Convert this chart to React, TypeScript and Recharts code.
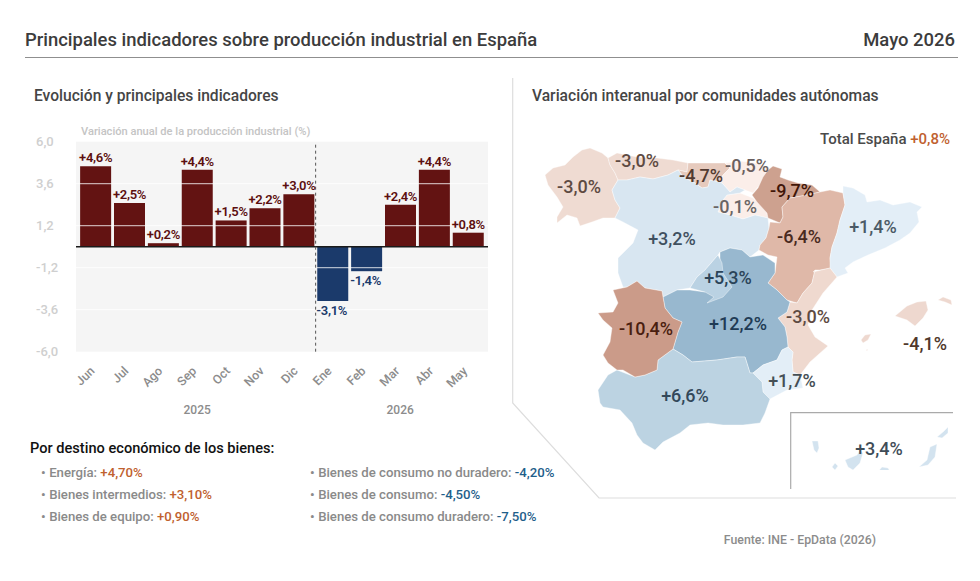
import React from "react";
import { Bar, BarChart, CartesianGrid, Cell, LabelList, ReferenceLine, Scatter, ScatterChart, XAxis, YAxis } from "recharts";

// ---------- bar chart data ----------
const months = ["Jun", "Jul", "Ago", "Sep", "Oct", "Nov", "Dic", "Ene", "Feb", "Mar", "Abr", "May"];
const monthlyValues = [4.6, 2.5, 0.2, 4.4, 1.5, 2.2, 3.0, -3.1, -1.4, 2.4, 4.4, 0.8];
const yTicks = [6, 3.6, 1.2, -1.2, -3.6, -6];
const innerGridValues = [3.6, 1.2, -1.2, -3.6];

// ---------- map data ----------
const regionNames = ["Galicia", "Asturias", "Cantabria", "PaisVasco", "Rioja", "CyL", "Navarra", "Aragon", "Cataluna", "Valencia", "CLM", "Madrid", "Murcia", "Andalucia", "Extremadura", "Baleares", "Canarias"];
const regionValues = [-3.0, -3.0, -4.7, -0.5, -0.1, 3.2, -9.7, -6.4, 1.4, -3.0, 12.2, 5.3, 1.7, 6.6, -10.4, -4.1, 3.4];

// label anchors, in page pixels (the map axes run in page pixels)
const labelX = [579, 637, 701, 747, 735, 672, 792, 799, 873, 808, 738, 728, 792, 685, 646, 925, 879];
const labelY = [186, 160, 175, 165, 206, 238, 190, 236, 226, 316, 323, 277, 380, 395, 328, 343, 448];

const regionFills = ["#efdbd2", "#efdbd2", "#e6cabd", "#fbeee9", "#fbeee9", "#d8e6f1", "#cda18f", "#dfb8a8", "#e3eef7", "#efd9cf", "#98b8cf", "#bad2e3", "#e3eef7", "#bcd3e2", "#cb9b89", "#eed8cf", "#d3e3ef"];
const regionInk = ["#5e4a42", "#5e4a42", "#523a30", "#6a6060", "#6a6565", "#3f5060", "#401608", "#4a2a1e", "#4b5a66", "#5e4a42", "#1f3b55", "#2b4459", "#454f55", "#33485a", "#4a1e10", "#50382c", "#3f4d58"];

// region outlines (base-map geography), in page pixels
const outlines: Record<string, number[][][]> = {
  Galicia: [[[545,175],[553,168],[565,165],[573,157],[582,150],[590,148],[602,153],[608,158],[610,165],[615,173],[618,180],[612,190],[615,200],[620,208],[615,218],[603,218],[592,222],[580,226],[577,218],[567,215],[557,223],[557,217],[563,207],[557,197],[548,185]]],
  Asturias: [[[608,158],[617,153],[637,157],[657,158],[673,160],[688,163],[687,172],[678,170],[668,175],[653,179],[640,177],[627,180],[618,180],[615,173],[610,165]]],
  Cantabria: [[[688,163],[707,163],[725,163],[730,168],[723,175],[720,182],[710,180],[708,187],[702,188],[695,183],[687,179],[682,175],[678,170],[687,172]]],
  PaisVasco: [[[725,163],[740,161],[757,163],[770,168],[762,182],[753,193],[745,190],[737,187],[730,192],[722,183],[720,182],[723,175],[730,168]]],
  Rioja: [[[727,195],[740,193],[753,198],[767,210],[768,218],[755,215],[743,219],[730,215],[718,212],[723,200]]],
  CyL: [[[612,190],[618,180],[627,180],[640,177],[653,179],[668,175],[678,170],[682,175],[687,179],[695,183],[702,188],[708,187],[710,180],[720,182],[722,183],[730,192],[737,187],[745,190],[740,193],[727,195],[723,200],[718,212],[730,215],[743,219],[755,215],[768,218],[769,228],[766,238],[760,245],[759,250],[750,257],[742,250],[730,248],[720,252],[718,255],[705,270],[697,277],[690,288],[677,290],[663,297],[662,291],[645,288],[637,281],[627,287],[623,287],[618,273],[618,258],[633,243],[638,230],[623,222],[615,218],[620,208],[615,200]]],
  Navarra: [[[768,170],[773,166],[782,169],[780,177],[788,180],[798,183],[812,185],[820,192],[807,195],[790,198],[782,207],[783,217],[780,223],[768,218],[767,213],[757,202],[752,195],[758,188],[763,177]]],
  Aragon: [[[820,192],[830,190],[843,193],[845,205],[840,220],[837,233],[832,247],[830,258],[831,268],[820,270],[815,270],[812,283],[803,293],[797,303],[787,300],[777,290],[768,283],[775,273],[777,257],[768,255],[759,250],[760,245],[766,238],[769,228],[770,222],[780,223],[783,217],[782,207],[790,198],[807,195]]],
  Cataluna: [[[843,186],[853,188],[865,195],[867,202],[880,200],[893,205],[910,202],[922,207],[917,212],[919,222],[910,233],[900,240],[885,248],[868,255],[853,262],[845,268],[848,273],[837,277],[830,268],[830,258],[832,247],[837,233],[840,220],[845,205],[843,193]]],
  Valencia: [[[813,272],[830,268],[837,277],[823,293],[812,310],[808,325],[815,337],[828,346],[810,362],[800,375],[793,372],[792,360],[793,352],[788,347],[787,337],[785,327],[778,318],[787,312],[790,302],[797,303],[803,293],[812,283],[815,270]]],
  CLM: [[[663,297],[677,290],[690,290],[705,292],[720,280],[720,252],[730,248],[742,250],[750,257],[763,255],[775,263],[775,273],[768,283],[777,290],[787,300],[790,302],[787,312],[778,318],[785,327],[787,337],[788,347],[782,350],[777,360],[763,365],[753,373],[750,373],[745,357],[737,357],[717,360],[692,362],[683,355],[673,349],[678,332],[682,322],[673,318],[665,308]]],
  Madrid: [[[690,288],[697,277],[705,270],[718,255],[722,263],[723,273],[732,287],[723,297],[707,303],[714,297],[705,292]]],
  Murcia: [[[753,373],[763,365],[777,360],[782,350],[788,347],[793,352],[792,360],[793,372],[800,375],[803,388],[787,390],[770,399],[763,392],[762,382]]],
  Andalucia: [[[598,390],[608,375],[617,370],[635,377],[645,375],[657,370],[658,360],[673,349],[683,355],[692,362],[717,360],[737,357],[745,357],[750,373],[753,373],[762,382],[763,392],[770,399],[765,413],[760,423],[743,425],[723,425],[708,423],[690,425],[680,433],[663,442],[655,450],[643,443],[637,435],[632,423],[620,410],[603,407],[600,403]]],
  Extremadura: [[[613,290],[627,287],[637,281],[645,288],[662,291],[663,297],[665,308],[673,318],[682,322],[678,332],[673,349],[658,360],[657,370],[645,375],[635,377],[623,370],[617,370],[608,363],[603,355],[610,342],[612,328],[603,320],[598,313],[613,312],[618,303]]],
  Baleares: [
    [[895,316],[907,306],[917,302],[926,301],[928,310],[923,318],[915,326],[907,320]],
    [[938,300],[943,297],[951,300],[952,305],[945,302]],
    [[861,340],[865,335],[871,334],[868,340],[863,343]],
    [[866,350],[868,349],[867,351]],
  ],
  Canarias: [
    [[812,441],[818,441],[819,448],[817,453],[814,450]],
    [[832,467],[835,463],[838,466],[835,470]],
    [[808,482],[813,480],[814,477],[815,480],[812,483]],
    [[845,460],[857,455],[860,450],[863,453],[860,463],[853,470],[848,467]],
    [[877,473],[882,467],[888,468],[891,473],[887,478],[880,478]],
    [[919,467],[927,460],[930,447],[937,444],[935,457],[928,465]],
    [[937,437],[943,432],[948,427],[948,433],[942,438]],
  ],
};

// ---------- text data ----------
const FONT = "Roboto, sans-serif";
const positiveIndicators = [
  ["Energía:", "+4,70%"],
  ["Bienes intermedios:", "+3,10%"],
  ["Bienes de equipo:", "+0,90%"],
];
const negativeIndicators = [
  ["Bienes de consumo no duradero:", "-4,20%"],
  ["Bienes de consumo:", "-4,50%"],
  ["Bienes de consumo duradero:", "-7,50%"],
];

const signed = (v: number) => (v > 0 ? "+" : "") + v.toFixed(1).replace(".", ",") + "%";

const barData = months.map((m, i) => ({ month: m, value: monthlyValues[i] }));
const mapData = regionNames.map((id, i) => ({ id, x: labelX[i], y: labelY[i], value: regionValues[i], fill: regionFills[i], ink: regionInk[i] }));

const YTick = ({ y, payload }: any) => (
  <text x={36} y={y} dy={4.5} textAnchor="start" fontFamily={FONT} fontSize={13} fontWeight={500} fill="#cfcfcf">
    {payload.value.toFixed(1).replace(".", ",")}
  </text>
);

const XTick = ({ x, y, payload }: any) => (
  <text transform={`translate(${x},${y + 12}) rotate(-45)`} textAnchor="end" fontFamily={FONT} fontSize={12.4} fontWeight={500} fill="#8c8c8c">
    {payload.value}
  </text>
);

const BarValue = ({ x, y, width, height, value }: any) => {
  const neg = value < 0;
  const top = Math.min(y, y + height);
  const bottom = Math.max(y, y + height);
  return (
    <text
      x={x + width / 2 - (neg ? 1 : 0)}
      y={neg ? bottom + 14 : top - 4}
      textAnchor="middle"
      fontFamily={FONT}
      fontSize={13}
      fontWeight={600}
      letterSpacing={-0.3}
      fill={neg ? "#1b3a6b" : "#5c0f0f"}
    >
      {signed(value)}
    </text>
  );
};

const RegionShape = ({ cx, cy, payload }: any) => {
  const d = outlines[payload.id]
    .map((ring) => "M" + ring.map(([px, py]) => `${cx + px - payload.x},${cy + py - payload.y}`).join("L") + "Z")
    .join("");
  return <path d={d} fill={payload.fill} stroke="#ffffff" strokeWidth={0.4} strokeLinejoin="round" />;
};

const RegionLabel = ({ cx, cy, payload }: any) => (
  <text x={cx} y={cy} dy={6.5} textAnchor="middle" fontFamily={FONT} fontSize={18} fontWeight={500} fill={payload.ink}>
    {signed(payload.value)}
  </text>
);

const Txt = ({ x, y, size, color, weight = 500, right, children }: any) => (
  <div
    style={{
      position: "absolute",
      top: y,
      ...(right != null ? { right: 980 - right } : { left: x }),
      transform: "translateY(-50%)",
      fontFamily: FONT,
      fontSize: size,
      fontWeight: weight,
      color,
      whiteSpace: "nowrap",
      lineHeight: 1,
    }}
  >
    {children}
  </div>
);

const IndicatorList = ({ items, left, valueColor }: any) =>
  items.map(([label, val]: string[], i: number) => (
    <Txt key={label} x={left} y={473 + i * 22} size={13.2} color="#8a8a8a">
      <span style={{ marginRight: 3.5 }}>•</span>
      {label} <span style={{ color: valueColor }}>{val}</span>
    </Txt>
  ));

export default function App() {
  return (
    <div style={{ position: "absolute", left: 0, top: 0, width: 980, height: 581, background: "#fff", overflow: "hidden" }}>
      <Txt x={25} y={40} size={18.45} color="#3c3c3c">Principales indicadores sobre producción industrial en España</Txt>
      <Txt right={955} y={40} size={18.45} color="#3c3c3c">Mayo 2026</Txt>
      <div style={{ position: "absolute", left: 25, top: 56.5, width: 933, height: 1.2, background: "#8f8f8f" }} />

      <Txt x={34} y={96.5} size={15.6} color="#454545">Evolución y principales indicadores</Txt>
      <Txt x={532} y={96.5} size={15.6} color="#454545">Variación interanual por comunidades autónomas</Txt>

      <div style={{ position: "absolute", left: 0, top: 0 }}>
        <BarChart width={500} height={430} data={barData} margin={{ left: 0, top: 141.7, right: 12, bottom: 0 }} barCategoryGap="4.8%">
          <CartesianGrid horizontal={false} vertical={false} fill="#f5f5f5" />
          <YAxis width={76} type="number" domain={[-6, 6]} ticks={yTicks} interval={0} axisLine={false} tickLine={false} tick={<YTick />} />
          <XAxis dataKey="month" height={78.3} interval={0} axisLine={false} tickLine={false} padding={{ left: 2.5, right: 3 }} tick={<XTick />} />
          <Bar dataKey="value" isAnimationActive={false}>
            {barData.map((d) => (
              <Cell key={d.month} fill={d.value < 0 ? "#1b3a6b" : "#631312"} />
            ))}
            <LabelList dataKey="value" content={<BarValue />} />
          </Bar>
          {innerGridValues.map((v) => (
            <ReferenceLine key={v} y={v} stroke="#ffffff" strokeOpacity={0.65} strokeWidth={1.2} />
          ))}
          <ReferenceLine y={0} stroke="#1a1a1a" strokeWidth={1.6} />
          <ReferenceLine x="Ene" position="start" stroke="#555555" strokeWidth={1} strokeDasharray="3 3" />
        </BarChart>
      </div>

      <Txt x={81} y={132} size={11.1} color="#c4c4c4">Variación anual de la producción industrial (%)</Txt>
      <Txt x={183.5} y={410} size={12} color="#8c8c8c">2025</Txt>
      <Txt x={386.5} y={410} size={12} color="#8c8c8c">2026</Txt>

      <Txt x={30} y={448} size={14.6} color="#111111">Por destino económico de los bienes:</Txt>
      <IndicatorList items={positiveIndicators} left={41} valueColor="#c0612f" />
      <IndicatorList items={negativeIndicators} left={310} valueColor="#1f5f8b" />
      <Txt right={876} y={540} size={12.3} color="#8c8c8c">Fuente: INE - EpData (2026)</Txt>

      <Txt right={950} y={139} size={15} color="#4a4a4a">
        Total España <span style={{ color: "#c0612f" }}>+0,8%</span>
      </Txt>

      <svg width={980} height={581} style={{ position: "absolute", left: 0, top: 0, pointerEvents: "none" }}>
        <path d="M512.7 78V403L599 498H956" fill="none" stroke="#dddddd" strokeWidth={1.2} />
        <path d="M790.7 489V412.7H953" fill="none" stroke="#aaaaaa" strokeWidth={1.2} />
      </svg>

      <div style={{ position: "absolute", left: 520, top: 130 }}>
        <ScatterChart width={450} height={340} margin={{ left: 0, top: 0, right: 0, bottom: 0 }}>
          <XAxis type="number" dataKey="x" domain={[520, 970]} hide />
          <YAxis type="number" dataKey="y" domain={[130, 470]} reversed hide />
          <Scatter data={mapData} isAnimationActive={false} shape={<RegionShape />} />
          <Scatter data={mapData} isAnimationActive={false} shape={<RegionLabel />} />
        </ScatterChart>
      </div>
    </div>
  );
}
